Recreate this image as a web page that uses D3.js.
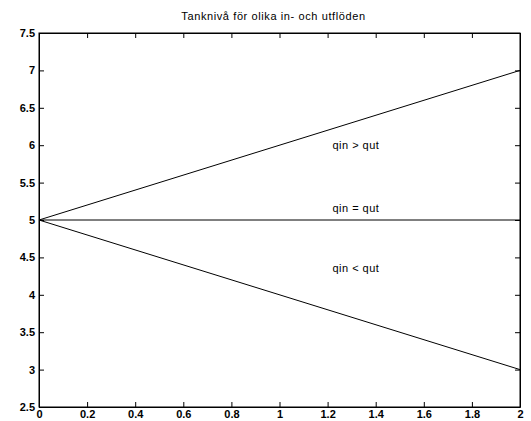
<!DOCTYPE html>
<html>
<head>
<meta charset="utf-8">
<script src="https://d3js.org/d3.v7.min.js"></script>
<style>
  html, body { margin: 0; padding: 0; background: #fff; }
  svg { display: block; }
  text { font-family: "Liberation Sans", Arial, Helvetica, sans-serif; fill: #000; }
</style>
</head>
<body>
<svg id="chart" width="531" height="421"></svg>
<script>
const title = "Tanknivå för olika in- och utflöden";
const xValues = [0, 2];
const seriesIn = [5, 7];   // qin > qut
const seriesEq = [5, 5];   // qin = qut
const seriesOut = [5, 3];  // qin < qut
const seriesLabels = ["qin > qut", "qin = qut", "qin < qut"];
const labelX = [1.22, 1.22, 1.22];
const labelY = [6.0, 5.16, 4.36];
const xTicks = [0, 0.2, 0.4, 0.6, 0.8, 1, 1.2, 1.4, 1.6, 1.8, 2];
const yTicks = [2.5, 3, 3.5, 4, 4.5, 5, 5.5, 6, 6.5, 7, 7.5];

(function () {
const svg = d3.select("#chart");
const mL = 39, mR = 520, mT = 33, mB = 407;
const x = d3.scaleLinear().domain([0, 2]).range([mL, mR]);
const y = d3.scaleLinear().domain([2.5, 7.5]).range([mB, mT]);
const fmt = d => String(d);

// axes with inward ticks
const tl = 5;
svg.append("g").attr("transform", `translate(0,${mB})`)
  .call(d3.axisBottom(x).tickValues(xTicks).tickFormat(fmt).tickSizeInner(-tl).tickSizeOuter(0).tickPadding(3))
  .call(g => g.selectAll("text").attr("font-size", 11).attr("font-weight", "bold"));
svg.append("g").attr("transform", `translate(0,${mT})`)
  .call(d3.axisTop(x).tickValues(xTicks).tickFormat("").tickSizeInner(-tl).tickSizeOuter(0));
svg.append("g").attr("transform", `translate(${mL},0)`)
  .call(d3.axisLeft(y).tickValues(yTicks).tickFormat(fmt).tickSizeInner(-tl).tickSizeOuter(0).tickPadding(tl - 1))
  .call(g => g.selectAll("text").attr("font-size", 11).attr("font-weight", "bold"));
svg.append("g").attr("transform", `translate(${mR},0)`)
  .call(d3.axisRight(y).tickValues(yTicks).tickFormat("").tickSizeInner(-tl).tickSizeOuter(0));
svg.selectAll(".domain").attr("stroke", "#000");
svg.selectAll(".tick line").attr("stroke", "#000");

// box
svg.append("rect").attr("x", mL).attr("y", mT).attr("width", mR - mL).attr("height", mB - mT)
  .attr("fill", "none").attr("stroke", "#000").attr("stroke-width", 1);

// lines
const line = d3.line().x((d, i) => x(xValues[i])).y(d => y(d));
[seriesIn, seriesEq, seriesOut].forEach(s => {
  svg.append("path").datum(s).attr("d", line).attr("fill", "none").attr("stroke", "#000").attr("stroke-width", 1);
});

// labels
seriesLabels.forEach((t, i) => {
  svg.append("text").attr("x", x(labelX[i])).attr("y", y(labelY[i])).attr("dy", "0.35em")
    .attr("font-size", 11).attr("letter-spacing", 0.5).text(t);
});

// title
svg.append("text").attr("x", (mL + mR) / 2 - 6).attr("y", 20).attr("text-anchor", "middle")
  .attr("font-size", 11).attr("letter-spacing", 0.6).text(title);
})();
</script>
</body>
</html>
